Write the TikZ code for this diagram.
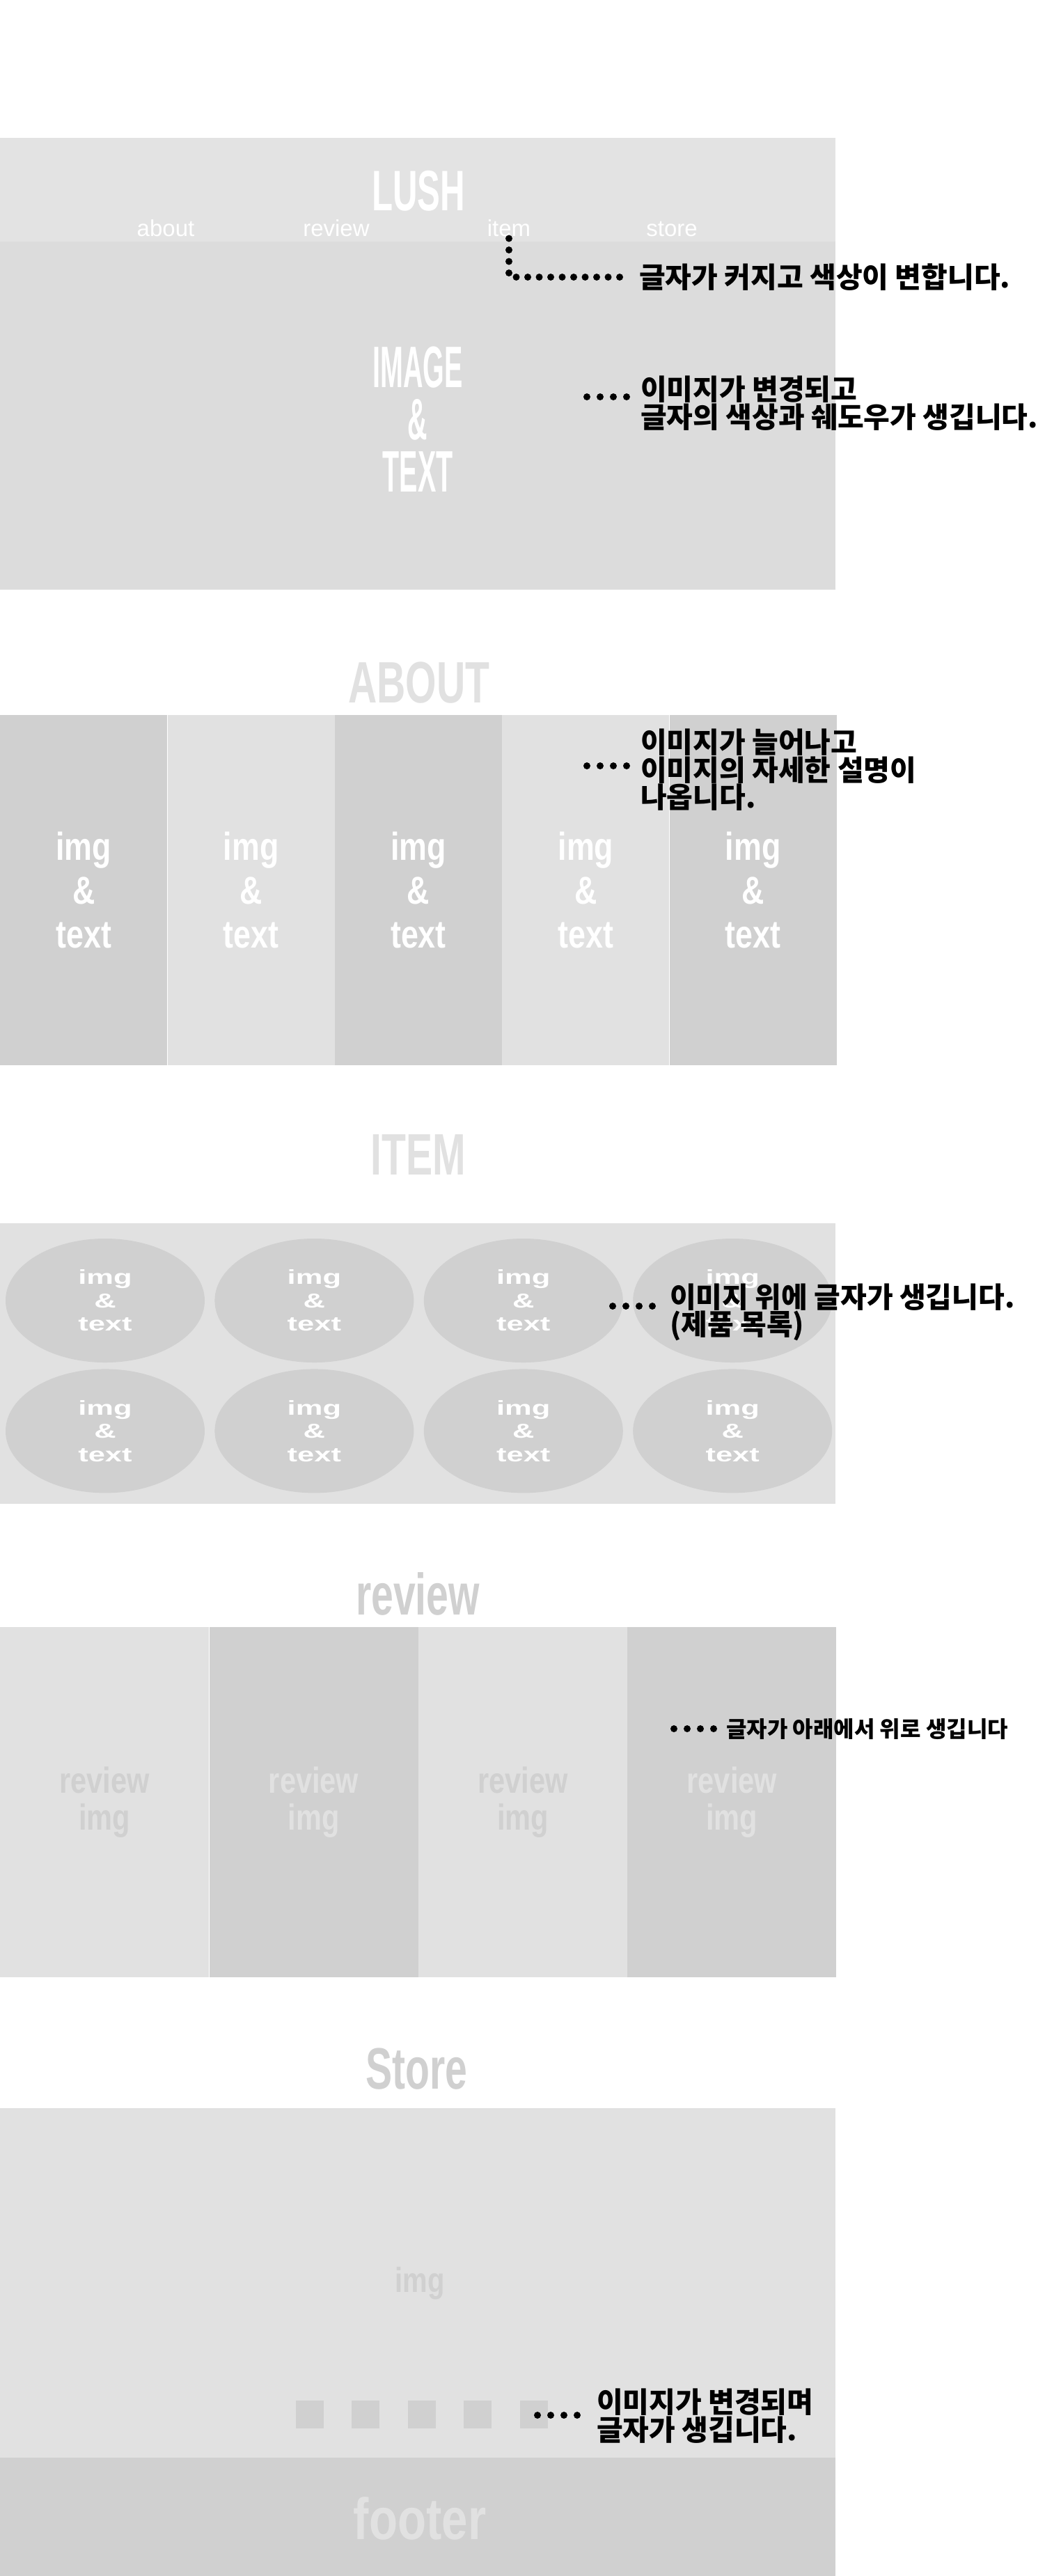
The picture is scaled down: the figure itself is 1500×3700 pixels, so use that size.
\documentclass[tikz,border=0pt]{standalone}
\usepackage{fontspec}
\setmainfont{Liberation Sans}
\newfontfamily\krfont{Noto Sans CJK KR}
\newfontfamily\logofont[FakeStretch=0.6]{Liberation Sans}
\newfontfamily\herofont[FakeStretch=0.47]{Liberation Sans}
\newfontfamily\titlefont[FakeStretch=0.68]{Liberation Sans}
\newfontfamily\colfont[FakeStretch=0.8]{Liberation Sans}
\newfontfamily\widefont[FakeStretch=1.5]{Liberation Sans}
\usepackage{tikz}
\usetikzlibrary{positioning, shapes.geometric}

\definecolor{lightbg}{HTML}{E1E1E1}
\definecolor{darkbg}{HTML}{D0D0D0}
\definecolor{herobg}{HTML}{DCDCDC}
\definecolor{headbg}{HTML}{E3E3E3}

\begin{document}
\begin{tikzpicture}[
  x=1pt, y=-1pt,
  navlink/.style={text=white, anchor=base, inner sep=3pt,
    font=\fontsize{33}{36}\selectfont},
  heading/.style={anchor=base, inner sep=0, text=#1,
    font=\titlefont\bfseries\fontsize{84}{84}\selectfont},
  heading/.default=lightbg,
  col/.style={fill=#1, anchor=north west, minimum width=240,
    minimum height=503, inner sep=0, align=center, text=white,
    font=\colfont\bfseries\fontsize{56}{63}\selectfont},
  revcol/.style 2 args={fill=#1, text=#2, anchor=north west,
    minimum width=300, minimum height=503, inner sep=0, align=center,
    font=\colfont\bfseries\fontsize{52}{53}\selectfont},
  bubble/.style={ellipse, fill=darkbg, minimum width=286, minimum height=178,
    inner sep=0, align=center, text=white,
    font=\widefont\bfseries\fontsize{29}{33.5}\selectfont},
  thumb/.style={fill=darkbg, minimum size=40, inner sep=0},
  note/.style={anchor=west, inner sep=0, align=left,
    font=\krfont\bfseries\fontsize{41}{37}\selectfont},
  dotline/.style={line width=10pt, line cap=round,
    dash pattern=on 0pt off #1, shorten >=12pt},
  dotline/.default=19pt,
]
  \fill[white] (0,0) rectangle (1500,3700);
  \useasboundingbox (0,0) rectangle (1500,3700);

  % header + main visual
  \fill[headbg] (0,198) rectangle (1200,347);
  \fill[herobg] (0,347) rectangle (1200,847);
  \node[anchor=base, inner sep=0, text=white,
    font=\logofont\bfseries\fontsize{82}{82}\selectfont] (logo) at (601,302) {LUSH};
  \node[navlink] (nabout) at (238,339) {about};
  \node[navlink] (nreview) at (483,339) {review};
  \node[navlink] (nitem) at (731,339) {item};
  \node[navlink] (nstore) at (965,339) {store};
  \node[anchor=north, inner sep=0, align=center, text=white,
    font=\herofont\bfseries\fontsize{84}{75}\selectfont] (herotext) at (600,498)
    {IMAGE\\\&\\TEXT};

  % about
  \node[heading] (tabout) at (602,1009) {ABOUT};
  \node[col=darkbg] (c1) at (0,1027) {img\\\&\\text};
  \node[col=lightbg, right=0pt of c1] (c2) {img\\\&\\text};
  \node[col=darkbg, right=0pt of c2] (c3) {img\\\&\\text};
  \node[col=lightbg, right=0pt of c3] (c4) {img\\\&\\text};
  \node[col=darkbg, right=0pt of c4] (c5) {img\\\&\\text};

  % item
  \node[heading] (titem) at (601,1687) {ITEM};
  \fill[lightbg] (0,1757) rectangle (1200,2160);
  \node[bubble] (e1) at (151,1868) {img\\\&\\text};
  \node[bubble, right=14pt of e1] (e2) {img\\\&\\text};
  \node[bubble, right=14pt of e2] (e3) {img\\\&\\text};
  \node[bubble, right=14pt of e3] (e4) {img\\\&\\text};
  \node[bubble, below=9pt of e1] (e5) {img\\\&\\text};
  \node[bubble, right=14pt of e5] (e6) {img\\\&\\text};
  \node[bubble, right=14pt of e6] (e7) {img\\\&\\text};
  \node[bubble, right=14pt of e7] (e8) {img\\\&\\text};

  % review
  \node[heading=darkbg] (treview) at (600,2319) {review};
  \node[revcol={lightbg}{darkbg}] (r1) at (0,2337) {review\\img};
  \node[revcol={darkbg}{lightbg}, right=0pt of r1] (r2) {review\\img};
  \node[revcol={lightbg}{darkbg}, right=0pt of r2] (r3) {review\\img};
  \node[revcol={darkbg}{lightbg}, right=0pt of r3] (r4) {review\\img};

  % store + footer
  \node[heading=darkbg] (tstore) at (598,3000) {Store};
  \fill[lightbg] (0,3028) rectangle (1200,3530);
  \node[inner sep=0, text=darkbg, font=\colfont\bfseries\fontsize{50}{50}\selectfont]
    (storeimg) at (603,3280) {img};
  \node[thumb] (s1) at (445,3468) {};
  \node[thumb, right=40pt of s1] (s2) {};
  \node[thumb, right=40pt of s2] (s3) {};
  \node[thumb, right=40pt of s3] (s4) {};
  \node[thumb, right=40pt of s4] (s5) {};
  \fill[darkbg] (0,3530) rectangle (1200,3700);
  \node[anchor=base, inner sep=0, text=lightbg,
    font=\colfont\bfseries\fontsize{84}{84}\selectfont] (footer) at (603,3647) {footer};

  % notes
  \node[note] (note1) at (918,398) {글자가 커지고 색상이 변합니다.};
  \node[note] (note2) at (920,579) {이미지가 변경되고\\글자의 색상과 쉐도우가 생깁니다.};
  \node[note] (note3) at (920,1106) {이미지가 늘어나고\\이미지의 자세한 설명이\\나옵니다.};
  \node[note] (note4) at (962,1885) {이미지 위에 글자가 생깁니다.\\(제품 목록)};
  \node[note, font=\krfont\bfseries\fontsize{32}{34}\selectfont]
    (note5) at (1043,2483) {글자가 아래에서 위로 생깁니다};
  \node[note] (note6) at (857,3470) {이미지가 변경되며\\글자가 생깁니다.};

  \coordinate (d2) at (843,570);
  \coordinate (d3) at (843,1100);
  \coordinate (d4) at (880,1876);
  \coordinate (d5) at (968,2483);
  \coordinate (d6) at (772,3469);

  \draw[dotline=16.5pt] (nitem.south) |- (note1.west);
  \draw[dotline] (d2) -- (d2 -| note2.west);
  \draw[dotline] (d3) -- (d3 -| note3.west);
  \draw[dotline] (d4) -- (d4 -| note4.west);
  \draw[dotline] (d5) -- (d5 -| note5.west);
  \draw[dotline] (d6) -- (d6 -| note6.west);
\end{tikzpicture}
\end{document}
